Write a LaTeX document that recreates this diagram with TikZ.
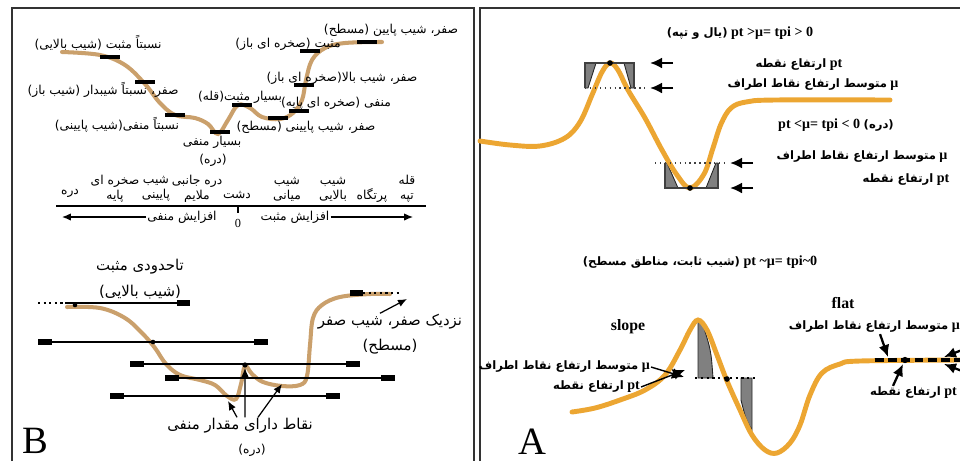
\documentclass[tikz,border=0pt]{standalone}
\usepackage{xcolor}
\usepackage{fontspec}
\usepackage{tikz}
\usetikzlibrary{arrows.meta}
\setmainfont{Liberation Serif}
\newfontfamily\persianfont[Script=Arabic]{DejaVu Sans}
\TeXXeTstate=1
\newcommand{\fa}[1]{{\persianfont\beginR #1\endR}}
\newcommand{\fas}[1]{{\persianfont\fontsize{6.6}{8}\selectfont\beginR #1\endR}}
\definecolor{tanline}{RGB}{202,160,108}
\definecolor{orangeline}{RGB}{236,166,50}

\begin{document}
\begin{tikzpicture}[x=0.02cm, y=-0.02cm,
    lblB/.style={font=\fontsize{7}{8.5}\selectfont, inner sep=0.5pt},
    lblBig/.style={font=\fontsize{8.5}{10}\selectfont, inner sep=0.5pt},
    lblA/.style={font=\bfseries\fontsize{8}{9}\selectfont, inner sep=0.5pt},
    curveB/.style={draw=tanline, line width=2.3pt, line cap=round},
    curveA/.style={draw=orangeline, line width=2.8pt, line cap=round},
    tickbar/.style={line width=2pt},
    window/.style={line width=1.2pt},
    winend/.style={line width=3pt},
    pointer/.style={-{Latex[length=2.4mm, width=2.2mm]}, line width=1.3pt},
    thinpointer/.style={-{Latex[length=1.8mm, width=1.5mm]}, line width=0.7pt},
    box/.style={draw=black!75, line width=0.8pt},
    shade/.style={fill=black!50, draw=black!85, line width=0.5pt}]
    \useasboundingbox (0, 0) rectangle (960, 461);

    \draw[line width=1.3pt, black!80] (12, 461) -- (12, 8) -- (474, 8) -- (474, 461);
    \draw[line width=1.3pt, black!80] (480, 461) -- (480, 8) -- (960, 8);

    % panel B, profile
    \draw[curveB] plot[smooth, tension=0.6] coordinates {(62, 52) (100, 55) (125, 65) (145, 84) (160, 103) (175, 115) (195, 118) (208, 124) (218, 134) (228, 120) (238, 105) (250, 108) (262, 117) (280, 119) (293, 113) (302, 100) (306, 80) (312, 60) (325, 48) (345, 43) (382, 42)};
    \foreach \x/\y in {110/57, 145/82, 175/115, 220/132, 242/105, 278/118, 299/111, 304/85, 310/51, 367/42}
        \draw[tickbar] (\x-10, \y) -- (\x+10, \y);

    \node[lblB] at (98, 43) (relPos) {\fa{نسبتاً مثبت (شیب بالایی)}};
    \node[lblB] at (103, 90) (zeroSteep) {\fa{صفر، نسبتاً شیبدار (شیب باز)}};
    \node[lblB] at (117, 125) (relNeg) {\fa{نسبتاً منفی(شیب پایینی)}};
    \node[lblB] at (212, 142) (veryNeg) {\fa{بسیار منفی}};
    \node[lblB] at (213, 160) (valley) {\fa{(دره)}};
    \node[lblB] at (240, 97) (veryPos) {\fa{بسیار مثبت(قله)}};
    \node[lblB] at (342, 78) (zeroUp) {\fa{صفر، شیب بالا(صخره ای باز)}};
    \node[lblB] at (336, 103) (negBase) {\fa{منفی (صخره ای پایه)}};
    \node[lblB] at (306, 127) (zeroLow) {\fa{صفر، شیب پایینی (مسطح)}};
    \node[lblB] at (288, 44) (posOpen) {\fa{مثبت (صخره ای باز)}};
    \node[lblB] at (391, 30) (zeroFlat) {\fa{صفر، شیب پایین (مسطح)}};

    % panel B, scale
    \draw[line width=1.6pt] (56, 206) -- (426, 206);
    \draw[line width=0.8pt] (238, 206) -- (238, 213);
    \node[lblB] at (238, 223) (zero) {0};
    \node[lblB, align=center] at (407, 189) (sHill) {\fa{قله}\\\fa{تپه}};
    \node[lblB] at (372, 195) (sCliff) {\fa{پرتگاه}};
    \node[lblB, align=center] at (333, 189) (sUpper) {\fa{شیب}\\\fa{بالایی}};
    \node[lblB, align=center] at (287, 189) (sMid) {\fa{شیب}\\\fa{میانی}};
    \node[lblB] at (237, 195) (sPlain) {\fa{دشت}};
    \node[lblB, align=center] at (197, 189) (sSide) {\fa{دره جانبی}\\\fa{ملایم}};
    \node[lblB, align=center] at (156, 189) (sLower) {\fa{شیب}\\\fa{پایینی}};
    \node[lblB, align=center] at (115, 189) (sBase) {\fa{صخره ای}\\\fa{پایه}};
    \node[lblB] at (70, 193) (sValley) {\fa{دره}};
    \node[lblB] at (182, 217) (incNeg) {\fa{افزایش منفی}};
    \node[lblB] at (295, 217) (incPos) {\fa{افزایش مثبت}};
    \coordinate (negEnd) at (62, 217);
    \coordinate (posEnd) at (413, 217);
    \draw[thinpointer] (incNeg) -- (negEnd);
    \draw[thinpointer] (incPos) -- (posEnd);

    % panel B, windows
    \draw[curveB] plot[smooth, tension=0.6] coordinates {(67, 307) (100, 308) (125, 318) (143, 334) (155, 348) (166, 364) (180, 375) (200, 380) (215, 385) (227, 396) (236, 399) (241, 384) (245, 366) (252, 374) (263, 382) (282, 386) (300, 385) (307, 376) (310, 345) (313, 318) (322, 305) (340, 297) (370, 294) (390, 294)};
    \draw[window, dotted] (38, 303) -- (65, 303);
    \draw[window] (65, 303) -- (190, 303);
    \draw[winend] (177, 303) -- (190, 303);
    \foreach \y/\a/\b in {342/38/268, 364/130/360, 378/165/395, 396/110/340} {
        \draw[window] (\a, \y) -- (\b, \y);
        \draw[winend] (\a, \y) -- (\a+14, \y);
        \draw[winend] (\b-14, \y) -- (\b, \y);
    }
    \draw[winend] (350, 293) -- (363, 293);
    \draw[window, dotted] (363, 293) -- (400, 293);
    \fill (75, 305) circle (1.3pt);
    \fill (153, 342) circle (1.3pt);
    \fill (245, 365) circle (1.5pt);

    \node[lblBig] at (140, 267) (somePos) {\fa{تاحدودی مثبت}};
    \node[lblBig] at (140, 292) (upSlope) {\fa{(شیب بالایی)}};
    \node[lblBig] at (390, 322) (nearZero) {\fa{نزدیک صفر، شیب صفر}};
    \node[lblBig] at (390, 347) (flatB) {\fa{(مسطح)}};
    \node[lblBig] at (240, 426) (negPts) {\fa{نقاط دارای مقدار منفی}};
    \node[lblB] at (252, 450) (valleyB) {\fa{(دره)}};
    \coordinate (flatEnd) at (407, 299);
    \coordinate (dipL) at (228, 401);
    \coordinate (dipM) at (245, 368);
    \coordinate (dipR) at (282, 384);
    \draw[thinpointer] ([xshift=-0.2cm]nearZero.north) -- (flatEnd);
    \draw[thinpointer] ([xshift=-0.06cm]negPts.north) -- (dipL);
    \draw[thinpointer] ([xshift=0.1cm]negPts.north) -- (dipM);
    \draw[thinpointer] ([xshift=0.36cm]negPts.north) -- (dipR);
    \node[font=\fontsize{22}{22}\selectfont, inner sep=0pt] at (35, 441) (labB) {B};

    % panel A, ridge and valley
    \draw[shade] (585, 63) -- (596, 63) -- (588, 88) -- (585, 88) -- cycle;
    \draw[shade] (624, 63) -- (634, 63) -- (634, 88) -- (631, 88) -- cycle;
    \draw[shade] (665, 163) -- (667, 163) -- (678, 188) -- (665, 188) -- cycle;
    \draw[shade] (716, 163) -- (718, 163) -- (718, 188) -- (706, 188) -- cycle;
    \draw[curveA] plot[smooth, tension=0.6] coordinates {(480, 141) (510, 145) (540, 146) (565, 138) (580, 122) (592, 95) (602, 72) (610, 63) (618, 70) (628, 90) (645, 118) (662, 150) (677, 175) (690, 188) (704, 174) (713, 148) (721, 124) (731, 108) (746, 102) (775, 100) (890, 100)};
    \draw[box] (585, 88) -- (585, 63) -- (634, 63) -- (634, 88);
    \draw[box, dotted, line width=1.3pt] (585, 88) -- (645, 88);
    \draw[box] (665, 163) -- (665, 188) -- (718, 188) -- (718, 163);
    \draw[box, dotted, line width=1.3pt] (655, 163) -- (727, 163);
    \fill (610, 63) circle (1.6pt);
    \fill (690, 188) circle (1.6pt);
    \coordinate (pkT1) at (673, 63);
    \coordinate (pkH1) at (650, 63);
    \coordinate (pkT2) at (673, 88);
    \coordinate (pkH2) at (650, 88);
    \coordinate (vlT1) at (753, 163);
    \coordinate (vlH1) at (730, 163);
    \coordinate (vlT2) at (753, 188);
    \coordinate (vlH2) at (730, 188);
    \draw[pointer] (pkT1) -- (pkH1);
    \draw[pointer] (pkT2) -- (pkH2);
    \draw[pointer] (vlT1) -- (vlH1);
    \draw[pointer] (vlT2) -- (vlH2);

    \node[lblA] at (740, 33) (ridgeEq) {\fas{(یال و تپه)} pt >μ= tpi > 0};
    \node[lblA] at (799, 65) (ptTop) {\fas{ارتفاع نقطه} pt};
    \node[lblA] at (813, 85) (muTop) {\fas{متوسط ارتفاع نقاط اطراف} μ};
    \node[lblA] at (836, 125) (pitEq) {pt <μ= tpi < 0 \fas{(دره)}};
    \node[lblA] at (862, 157) (muPit) {\fas{متوسط ارتفاع نقاط اطراف} μ};
    \node[lblA] at (906, 180) (ptPit) {\fas{ارتفاع نقطه} pt};

    % panel A, slope and flat
    \node[lblA] at (700, 262) (flatEq) {\fas{(شیب ثابت، مناطق مسطح)} pt \textasciitilde μ= tpi\textasciitilde 0};
    \draw[shade] (698, 322) -- (698, 378) -- (713, 378) .. controls (711, 350) .. (702, 322) -- cycle;
    \draw[shade] (741, 378) -- (752, 378) -- (752, 430) .. controls (746, 420) .. (741, 400) -- cycle;
    \draw[curveA] plot[smooth, tension=0.6] coordinates {(572, 412) (595, 408) (620, 400) (645, 390) (665, 375) (680, 350) (690, 330) (698, 320) (707, 330) (717, 355) (727, 381) (740, 410) (752, 435) (765, 450) (777, 453) (790, 443) (800, 425) (810, 395) (822, 373) (840, 364) (860, 361) (960, 360)};
    \draw[dotted, line width=1.3pt] (695, 378) -- (756, 378);
    \fill (727, 379) circle (1.6pt);
    \draw[line width=2pt, dash pattern=on 5pt off 2.5pt] (875, 360) -- (960, 360);
    \fill (905, 360) circle (1.8pt);

    \node[lblA, font=\bfseries\fontsize{9}{10}\selectfont] at (628, 327) (slopeLbl) {slope};
    \node[lblA, font=\bfseries\fontsize{9}{10}\selectfont] at (843, 303) (flatLbl) {flat};
    \node[lblA, anchor=east] at (651, 367) (muSlope) {\fas{متوسط ارتفاع نقاط اطراف} μ};
    \node[lblA, anchor=east] at (641, 387) (ptSlope) {\fas{ارتفاع نقطه} pt};
    \node[lblA, anchor=east] at (961, 327) (muFlat) {\fas{متوسط ارتفاع نقاط اطراف} μ};
    \node[lblA, anchor=east] at (958, 393) (ptFlat) {\fas{ارتفاع نقطه} pt};
    \coordinate (slopeMu) at (684, 377);
    \coordinate (slopePt) at (685, 370);
    \coordinate (flatMu) at (888, 357);
    \coordinate (flatPt) at (903, 364);
    \coordinate (edgeT1) at (962, 350);
    \coordinate (edgeH1) at (944, 357);
    \coordinate (edgeT2) at (962, 371);
    \coordinate (edgeH2) at (944, 364);
    \draw[pointer, line width=0.8pt] (muSlope.east) -- (slopeMu);
    \draw[pointer, line width=0.8pt] (ptSlope.east) -- (slopePt);
    \draw[pointer] ([xshift=-1.62cm]muFlat.south east) -- (flatMu);
    \draw[pointer] ([xshift=-1.3cm]ptFlat.north east) -- (flatPt);
    \draw[pointer] (edgeT1) -- (edgeH1);
    \draw[pointer] (edgeT2) -- (edgeH2);
    \node[font=\fontsize{22}{22}\selectfont, inner sep=0pt] at (532, 442) (labA) {A};
\end{tikzpicture}
\end{document}
